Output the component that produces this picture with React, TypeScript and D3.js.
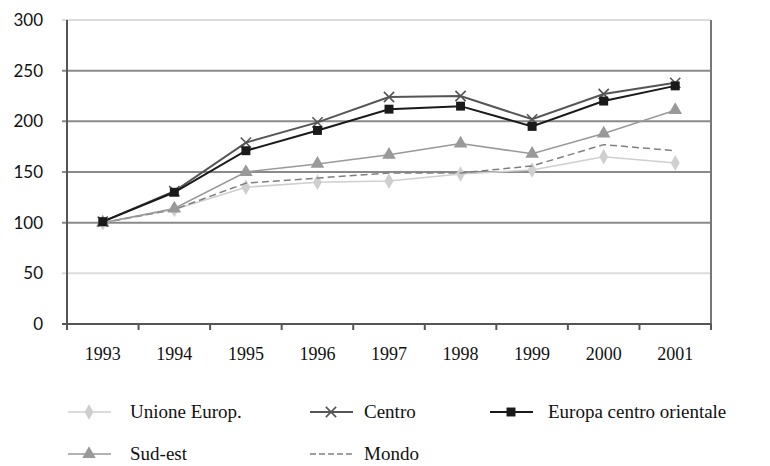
import React, { useEffect, useRef } from "react";
import * as d3 from "d3";

const years = ["1993", "1994", "1995", "1996", "1997", "1998", "1999", "2000", "2001"];
const unioneEurop = [100, 113, 135, 140, 141, 148, 152, 165, 159];
const centro = [101, 131, 179, 199, 224, 225, 202, 227, 238];
const europaCentroOrientale = [101, 130, 171, 191, 212, 215, 195, 220, 235];
const sudEst = [100, 114, 150, 158, 167, 178, 168, 188, 211];
const mondo = [100, 113, 139, 144, 149, 149, 156, 177, 171];
const yTicks = [0, 50, 100, 150, 200, 250, 300];

const App = () => {
  const ref = useRef<SVGSVGElement>(null);

  useEffect(() => {
    const width = 770;
    const height = 466;
    const margin = { top: 20, left: 67, bottom: 142, right: 59 };

    const svg = d3.select(ref.current);
    svg.selectAll("*").remove();
    svg.attr("width", width).attr("height", height);

    const x = d3
      .scaleBand()
      .domain(years)
      .range([margin.left, width - margin.right]);

    const y = d3
      .scaleLinear()
      .domain([0, 300])
      .range([height - margin.bottom, margin.top]);

    // griglia orizzontale (300 e 50 più chiare)
    svg
      .append("g")
      .selectAll("line")
      .data(yTicks.filter((d) => d > 0))
      .enter()
      .append("line")
      .attr("x1", margin.left - 5)
      .attr("x2", width - margin.right)
      .attr("y1", (d) => y(d))
      .attr("y2", (d) => y(d))
      .attr("stroke", (d) => (d === 300 || d === 50 ? "#dcdcdc" : "#8a8a8a"))
      .attr("stroke-width", 2);

    // etichette asse y
    svg
      .append("g")
      .selectAll("text")
      .data(yTicks)
      .enter()
      .append("text")
      .attr("x", 43)
      .attr("y", (d) => y(d))
      .attr("dy", "0.35em")
      .attr("text-anchor", "end")
      .attr("font-family", "Lato, sans-serif")
      .attr("font-size", 17)
      .attr("fill", "#111")
      .text((d) => d);

    // assi
    const axisColor = "#555";
    svg
      .append("line")
      .attr("x1", margin.left)
      .attr("x2", margin.left)
      .attr("y1", y(300))
      .attr("y2", y(0) + 6)
      .attr("stroke", axisColor)
      .attr("stroke-width", 2);
    svg
      .append("line")
      .attr("x1", width - margin.right)
      .attr("x2", width - margin.right)
      .attr("y1", y(300))
      .attr("y2", y(0) + 6)
      .attr("stroke", "#777")
      .attr("stroke-width", 2);
    svg
      .append("line")
      .attr("x1", margin.left - 5)
      .attr("x2", width - margin.right)
      .attr("y1", y(0))
      .attr("y2", y(0))
      .attr("stroke", axisColor)
      .attr("stroke-width", 2);

    // tacche asse x
    const edges = years.map((d) => x(d)!).concat([width - margin.right]);
    svg
      .append("g")
      .selectAll("line")
      .data(edges)
      .enter()
      .append("line")
      .attr("x1", (d) => d)
      .attr("x2", (d) => d)
      .attr("y1", y(0))
      .attr("y2", y(0) + 6)
      .attr("stroke", axisColor)
      .attr("stroke-width", 2);

    // etichette asse x
    svg
      .append("g")
      .selectAll("text")
      .data(years)
      .enter()
      .append("text")
      .attr("x", (d) => x(d)! + x.bandwidth() / 2)
      .attr("y", 360)
      .attr("text-anchor", "middle")
      .attr("font-family", "Liberation Serif, serif")
      .attr("font-size", 18)
      .attr("fill", "#111")
      .text((d) => d);

    const series = [
      { name: "Unione Europ.", values: unioneEurop, color: "#cfcfcf", marker: "diamond", dash: null, w: 1.5 },
      { name: "Mondo", values: mondo, color: "#808080", marker: null, dash: "7,4", w: 1.5 },
      { name: "Sud-est", values: sudEst, color: "#999", marker: "triangle", dash: null, w: 1.5 },
      { name: "Centro", values: centro, color: "#555", marker: "x", dash: null, w: 2 },
      { name: "Europa centro orientale", values: europaCentroOrientale, color: "#1a1a1a", marker: "square", dash: null, w: 2 },
    ];

    const cx = (i: number) => x(years[i])! + x.bandwidth() / 2;

    const symbolPath = (m: string) => {
      if (m === "diamond") return d3.symbol(d3.symbolDiamond, 70)();
      if (m === "triangle") return d3.symbol(d3.symbolTriangle, 80)();
      if (m === "square") return d3.symbol(d3.symbolSquare, 80)();
      return d3.symbol(d3.symbolX, 70)();
    };

    const drawMarker = (g: any, m: string | null, color: string, px: number, py: number) => {
      if (!m) return;
      if (m === "x") {
        g.append("path")
          .attr("d", symbolPath(m))
          .attr("transform", `translate(${px},${py})`)
          .attr("fill", "none")
          .attr("stroke", color)
          .attr("stroke-width", 1.6);
      } else {
        g.append("path")
          .attr("d", symbolPath(m))
          .attr("transform", `translate(${px},${py})`)
          .attr("fill", color);
      }
    };

    const line = d3
      .line<number>()
      .x((d, i) => cx(i))
      .y((d) => y(d));

    series.forEach((s) => {
      const g = svg.append("g");
      g.append("path")
        .attr("d", line(s.values))
        .attr("fill", "none")
        .attr("stroke", s.color)
        .attr("stroke-width", s.w)
        .attr("stroke-dasharray", s.dash);
      s.values.forEach((v, i) => drawMarker(g, s.marker, s.color, cx(i), y(v)));
    });

    // legenda
    const legendItems = [
      { s: series[0], lx: 68, ly: 412, tx: 130 },
      { s: series[3], lx: 310, ly: 412, tx: 364 },
      { s: series[4], lx: 490, ly: 412, tx: 548 },
      { s: series[2], lx: 68, ly: 454, tx: 130 },
      { s: series[1], lx: 310, ly: 454, tx: 364 },
    ];
    legendItems.forEach(({ s, lx, ly, tx }) => {
      const g = svg.append("g");
      g.append("line")
        .attr("x1", lx)
        .attr("x2", lx + 43)
        .attr("y1", ly)
        .attr("y2", ly)
        .attr("stroke", s.color)
        .attr("stroke-width", s.w)
        .attr("stroke-dasharray", s.dash ? "6,3" : null);
      drawMarker(g, s.marker, s.color, lx + 21, ly);
      g.append("text")
        .attr("x", tx)
        .attr("y", ly)
        .attr("dy", "0.32em")
        .attr("font-family", "Liberation Serif, serif")
        .attr("font-size", 19)
        .attr("fill", "#111")
        .text(s.name);
    });
  }, []);

  return (
    <div>
      <svg ref={ref} style={{ position: "absolute", left: 0, top: 0 }} />
    </div>
  );
};

export default App;
